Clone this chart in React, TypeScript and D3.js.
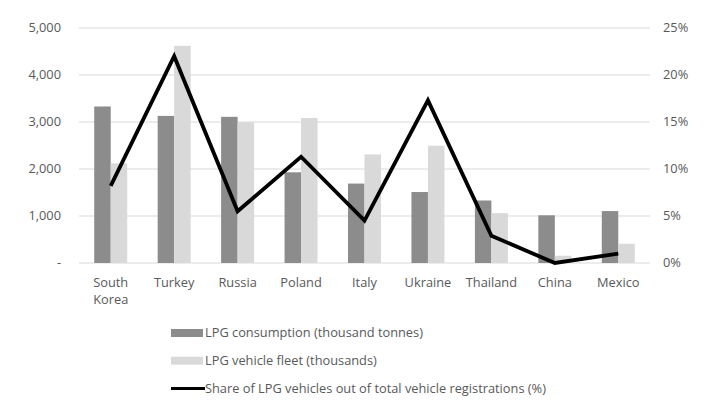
import React from "react";
import * as d3 from "d3";

const countries = ["South Korea", "Turkey", "Russia", "Poland", "Italy", "Ukraine", "Thailand", "China", "Mexico"];
const consumption = [3330, 3130, 3110, 1930, 1690, 1510, 1330, 1015, 1105];
const fleet = [2120, 4620, 2995, 3085, 2310, 2495, 1060, 155, 410];
const share = [8.2, 22.0, 5.5, 11.3, 4.5, 17.3, 2.9, 0.0, 1.0];
const leftTicks = [0, 1000, 2000, 3000, 4000, 5000];
const rightTicks = [0, 5, 10, 15, 20, 25];
const legendLabels = [
  "LPG consumption (thousand tonnes)",
  "LPG vehicle fleet (thousands)",
  "Share of LPG vehicles out of total vehicle registrations (%)",
];

const W = 719;
const H = 414;
const m = { left: 79, right: 69, top: 28, bottom: 151 };
const DARK = "#8c8c8c";
const LIGHT = "#d9d9d9";
const TEXT = "#595959";
const FONT = "'Open Sans', sans-serif";
const FS = 12.8;

export default function App() {
  const x = d3.scaleBand<string>().domain(countries).range([m.left, W - m.right]);
  const yL = d3.scaleLinear().domain([0, 5000]).range([H - m.bottom, m.top]);
  const yR = d3.scaleLinear().domain([0, 25]).range([H - m.bottom, m.top]);
  const barW = x.bandwidth() * 0.26;
  const fmt = d3.format(",");

  const line = d3
    .line<number>()
    .x((_, i) => (x(countries[i]) as number) + x.bandwidth() / 2)
    .y((d) => yR(d));

  return (
    <div style={{ margin: -8 }}>
      <svg width={W} height={H} style={{ display: "block", background: "#fff" }} fontFamily={FONT}>
        {leftTicks.map((t) => (
          <line key={"g" + t} x1={m.left} x2={W - m.right} y1={yL(t)} y2={yL(t)} stroke="#d9d9d9" strokeWidth={1} />
        ))}
        {leftTicks.map((t) => (
          <text key={"l" + t} x={61} y={yL(t)} dy="0.35em" textAnchor="end" fontSize={FS} fill={TEXT}>
            {t === 0 ? "-" : fmt(t)}
          </text>
        ))}
        {rightTicks.map((t) => (
          <text key={"r" + t} x={663} y={yR(t)} dy="0.35em" textAnchor="start" fontSize={FS} fill={TEXT}>
            {t + "%"}
          </text>
        ))}
        {countries.map((c, i) => {
          const cx = (x(c) as number) + x.bandwidth() / 2;
          return (
            <g key={c}>
              <rect x={cx - barW} y={yL(consumption[i])} width={barW} height={yL(0) - yL(consumption[i])} fill={DARK} />
              <rect x={cx} y={yL(fleet[i])} width={barW} height={yL(0) - yL(fleet[i])} fill={LIGHT} />
            </g>
          );
        })}
        {countries.map((c) => {
          const cx = (x(c) as number) + x.bandwidth() / 2;
          const parts = c.split(" ");
          return (
            <text key={"x" + c} x={cx} y={287} textAnchor="middle" fontSize={FS} fill={TEXT}>
              {parts.map((p, j) => (
                <tspan key={j} x={cx} dy={j === 0 ? 0 : 17}>
                  {p}
                </tspan>
              ))}
            </text>
          );
        })}
        <path d={line(share) || ""} fill="none" stroke="#000" strokeWidth={3.8} strokeLinejoin="miter" />
        {legendLabels.map((label, i) => {
          const cy = 333 + i * 27.7;
          return (
            <g key={label}>
              {i < 2 ? (
                <rect x={171} y={cy - 4} width={32} height={8} fill={i === 0 ? DARK : LIGHT} />
              ) : (
                <line x1={171} x2={205} y1={cy} y2={cy} stroke="#000" strokeWidth={3} />
              )}
              <text x={205} y={cy} dy="0.35em" fontSize={FS} fill={TEXT}>
                {label}
              </text>
            </g>
          );
        })}
      </svg>
    </div>
  );
}
